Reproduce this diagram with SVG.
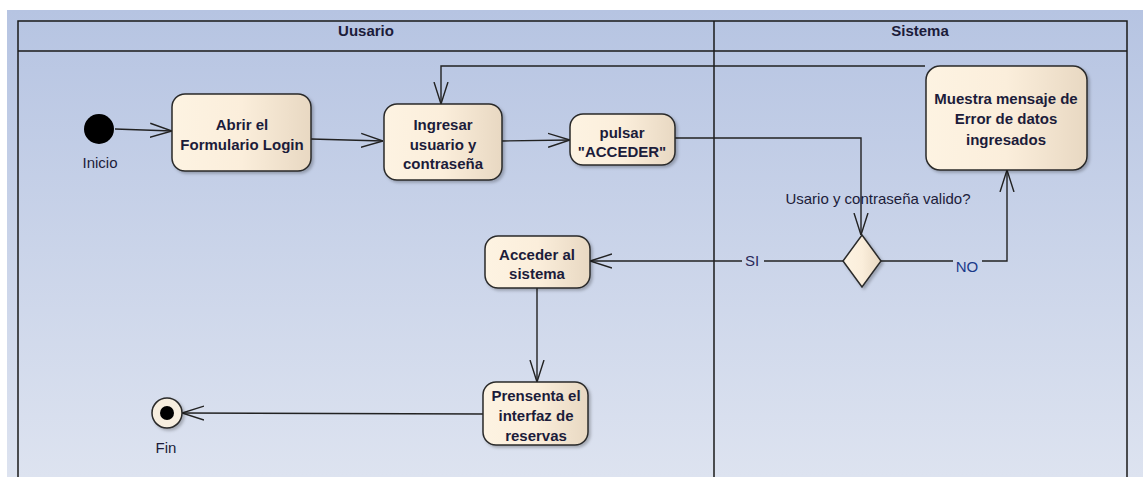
<svg xmlns="http://www.w3.org/2000/svg" width="1147" height="477" viewBox="0 0 1147 477">
<defs>
<linearGradient id="bg" x1="0" y1="0" x2="0" y2="1">
<stop offset="0" stop-color="#b6c4e2"/>
<stop offset="1" stop-color="#dde3f0"/>
</linearGradient>
<linearGradient id="box" x1="0" y1="0" x2="1" y2="0">
<stop offset="0" stop-color="#fdf3e2"/>
<stop offset="0.5" stop-color="#fbeedb"/>
<stop offset="1" stop-color="#e8d8c2"/>
</linearGradient>
<marker id="arr" viewBox="0 0 22 16" refX="22" refY="8" markerWidth="22" markerHeight="16" markerUnits="userSpaceOnUse" orient="auto">
<path d="M0,1 L22,8 L0,15" fill="none" stroke="#222" stroke-width="1.4"/>
</marker>
<filter id="sh" x="-20%" y="-20%" width="140%" height="140%">
<feDropShadow dx="2" dy="2" stdDeviation="1.5" flood-color="#000" flood-opacity="0.25"/>
</filter>
</defs>
<style>
.node{fill:url(#box);stroke:#2a2a2a;stroke-width:1.5;filter:url(#sh)}
.t{font-family:"Liberation Sans",Arial,sans-serif;font-size:15px;font-weight:bold;fill:#1c1c3a;text-anchor:middle}
.l{font-family:"Liberation Sans",Arial,sans-serif;font-size:15px;fill:#1c1c3a;text-anchor:middle}
.edge{fill:none;stroke:#222;stroke-width:1.4}
.lane{fill:none;stroke:#1a1a1a;stroke-width:1.5}
</style>
<rect x="0" y="0" width="1147" height="477" fill="#ffffff"/>
<rect x="7" y="10" width="1136" height="467" fill="url(#bg)"/>
<g id="lanes">
<path class="lane" d="M18,477 V21 H1127 V477"/>
<line class="lane" x1="18" y1="51" x2="1127" y2="51"/>
<line class="lane" x1="714" y1="21" x2="714" y2="477"/>
<text class="t" x="366" y="36">Uusario</text>
<text class="t" x="920" y="36">Sistema</text>
</g>
<g id="connectors">
<line class="edge" x1="115" y1="129" x2="172" y2="131" marker-end="url(#arr)"/>
<line class="edge" x1="311" y1="139" x2="383" y2="141" marker-end="url(#arr)"/>
<line class="edge" x1="502" y1="141" x2="570" y2="140" marker-end="url(#arr)"/>
<polyline class="edge" points="675,138 861,138 861,235" marker-end="url(#arr)"/>
<polyline class="edge" points="925,66 441,66 441,104" marker-end="url(#arr)"/>
<polyline class="edge" points="982,261 1007,261 1007,170" marker-end="url(#arr)"/>
<line class="edge" x1="881" y1="261" x2="953" y2="261"/>
<line class="edge" x1="843" y1="261" x2="764" y2="261"/>
<line class="edge" x1="742" y1="261" x2="590" y2="261" marker-end="url(#arr)"/>
<line class="edge" x1="537" y1="288" x2="537" y2="382" marker-end="url(#arr)"/>
<line class="edge" x1="483" y1="414" x2="182" y2="413" marker-end="url(#arr)"/>
<text class="l" x="878" y="204">Usario y contraseña valido?</text>
<text class="l" x="752" y="266" style="fill:#2a2a5a">SI</text>
<text class="l" x="967" y="272" style="fill:#1a3a8a">NO</text>
</g>
<g id="inicio">
<circle cx="99" cy="129" r="15" fill="#000"/>
<text class="l" x="100" y="168">Inicio</text>
</g>
<g id="abrir">
<rect class="node" x="172" y="94" width="139" height="77" rx="13"/>
<text class="t" x="242" y="130">Abrir el</text>
<text class="t" x="242" y="150">Formulario Login</text>
</g>
<g id="ingresar">
<rect class="node" x="384" y="104" width="118" height="76" rx="13"/>
<text class="t" x="443" y="130">Ingresar</text>
<text class="t" x="443" y="150">usuario y</text>
<text class="t" x="443" y="169">contraseña</text>
</g>
<g id="pulsar">
<rect class="node" x="570" y="114" width="105" height="51" rx="13"/>
<text class="t" x="622" y="138">pulsar</text>
<text class="t" x="622" y="157">"ACCEDER"</text>
</g>
<g id="muestra">
<rect class="node" x="926" y="66" width="161" height="104" rx="14"/>
<text class="t" x="1006" y="104">Muestra mensaje de</text>
<text class="t" x="1006" y="124">Error de datos</text>
<text class="t" x="1006" y="145">ingresados</text>
</g>
<g id="decision">
<polygon class="node" points="862,235 881,261 862,287 843,261"/>
</g>
<g id="acceder">
<rect class="node" x="485" y="236" width="105" height="52" rx="13"/>
<text class="t" x="537" y="260">Acceder al</text>
<text class="t" x="537" y="279">sistema</text>
</g>
<g id="prensenta">
<rect class="node" x="483" y="382" width="105" height="63" rx="13"/>
<text class="t" x="536" y="401">Prensenta el</text>
<text class="t" x="536" y="421">interfaz de</text>
<text class="t" x="536" y="441">reservas</text>
</g>
<g id="fin">
<circle cx="167" cy="413" r="15" fill="#f7eedf" stroke="#2a2a2a" stroke-width="1.5" filter="url(#sh)"/>
<circle cx="167" cy="413" r="7" fill="#000"/>
<text class="l" x="166" y="453">Fin</text>
</g>
</svg>
